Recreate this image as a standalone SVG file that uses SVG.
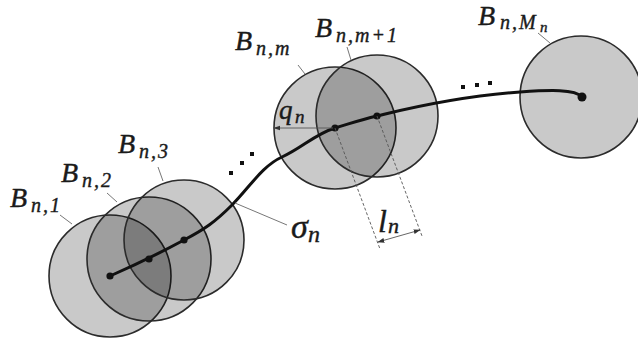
<svg xmlns="http://www.w3.org/2000/svg" width="638" height="348" viewBox="0 0 638 348">
<style>
.ball{fill:#000;fill-opacity:0.21;stroke:#2b2b2b;stroke-width:1.6}
.lbl{font-family:"Liberation Serif",serif;font-style:italic;fill:#1a1a1a;stroke:#1a1a1a;stroke-width:0.4}
.B{font-size:28px}
.sub{font-size:20px;letter-spacing:2px}
.lead{stroke:#777;stroke-width:1;fill:none}
.curve{fill:none;stroke:#111;stroke-width:3;stroke-linecap:round}
.dot{fill:#111}
.dash{stroke:#555;stroke-width:0.9;stroke-dasharray:3 2;fill:none}
.dim{stroke:#555;stroke-width:0.9;fill:none}
</style>
<defs>
<marker id="ah" viewBox="0 0 10 10" refX="9" refY="5" markerWidth="7" markerHeight="7" orient="auto-start-reverse" markerUnits="userSpaceOnUse">
<path d="M0,1.5 L10,5 L0,8.5 z" fill="#333"/>
</marker>
</defs>
<rect width="638" height="348" fill="#fff"/>
<g id="B1">
<circle class="ball" cx="110" cy="276" r="61"/>
<line class="lead" x1="60" y1="215" x2="72" y2="224"/>
<text class="lbl B" x="10" y="207">B</text><text class="lbl sub" x="31" y="212">n,1</text>
</g>
<g id="B2">
<circle class="ball" cx="149" cy="259" r="62"/>
<line class="lead" x1="107" y1="193" x2="117" y2="202"/>
<text class="lbl B" x="61" y="182">B</text><text class="lbl sub" x="82" y="187">n,2</text>
</g>
<g id="B3">
<circle class="ball" cx="184" cy="240" r="60"/>
<line class="lead" x1="158" y1="167" x2="163" y2="181"/>
<text class="lbl B" x="118" y="153">B</text><text class="lbl sub" x="139" y="158">n,3</text>
</g>
<g id="Bm">
<circle class="ball" cx="335" cy="128" r="61"/>
<line class="lead" x1="298" y1="65" x2="305" y2="74"/>
<text class="lbl B" x="235" y="50">B</text><text class="lbl sub" x="256" y="55">n,m</text>
</g>
<g id="Bm1">
<circle class="ball" cx="377" cy="116" r="61"/>
<line class="lead" x1="347" y1="47" x2="351" y2="60"/>
<text class="lbl B" x="315" y="37">B</text><text class="lbl sub" x="336" y="42">n,m+1</text>
</g>
<g id="BMn">
<circle class="ball" cx="581" cy="97" r="61"/>
<line class="lead" x1="538" y1="33" x2="550" y2="43"/>
<text class="lbl B" x="478" y="25">B</text><text class="lbl sub" x="500" y="29">n,M</text><text class="lbl" style="font-size:15px" x="540" y="32">n</text>
</g>
<g id="connectors">
<path class="curve" d="M110,276 C135,265 160,253 184,240 C205,229 215,222 232,205 S262,166 282,157 S315,134 335,128 S360,120 377,116 S450,97 520,92 C550,90 575,89 582,97"/>
<circle class="dot" cx="110" cy="276" r="3.6"/>
<circle class="dot" cx="149" cy="259" r="3.6"/>
<circle class="dot" cx="184" cy="240" r="3.6"/>
<circle class="dot" cx="335" cy="128" r="3.6"/>
<circle class="dot" cx="377" cy="116" r="3.6"/>
<circle class="dot" cx="582" cy="97" r="4.5"/>
<rect class="dot" x="229" y="171" width="4" height="4"/>
<rect class="dot" x="240" y="161" width="4" height="4"/>
<rect class="dot" x="250" y="152" width="4" height="4"/>
<rect class="dot" x="461" y="85" width="4" height="4"/>
<rect class="dot" x="475" y="83" width="4" height="4"/>
<rect class="dot" x="488" y="81" width="4" height="4"/>
<line class="dim" x1="333" y1="128" x2="274" y2="128" marker-end="url(#ah)"/>
<line class="dash" x1="335" y1="128" x2="380" y2="249"/>
<line class="dash" x1="377" y1="116" x2="422" y2="236"/>
<line class="dim" x1="378" y1="242" x2="420" y2="230" marker-start="url(#ah)" marker-end="url(#ah)"/>
<line class="lead" x1="235" y1="203" x2="287" y2="225"/>
</g>
<text class="lbl" style="font-size:27px" x="279" y="119">q</text><text class="lbl" style="font-size:19px" x="295" y="123">n</text>
<text class="lbl" style="font-size:34px" x="291" y="238">σ</text><text class="lbl" style="font-size:24px" x="308" y="242">n</text>
<text class="lbl" style="font-size:32px" x="378" y="232">l</text><text class="lbl" style="font-size:22px" x="388" y="233">n</text>
</svg>
